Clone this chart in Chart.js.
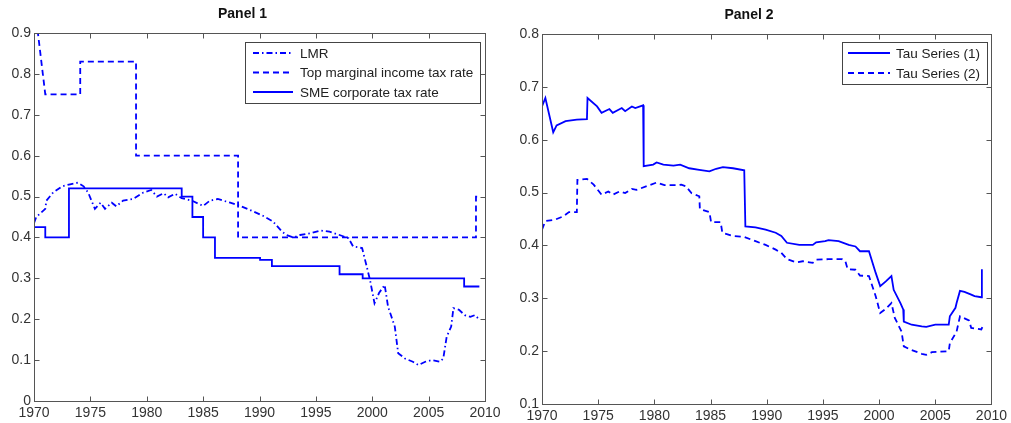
<!DOCTYPE html>
<html lang="en">
<head>
<meta charset="UTF-8">
<title>Panel 1 / Panel 2</title>
<script src="https://cdn.jsdelivr.net/npm/chart.js"></script>
<style>
  body { margin: 0; background: #fff; width: 1011px; height: 423px; overflow: hidden; position: relative; }
  canvas { position: absolute; top: 0; }
  #panel1 { left: 0; }
  #panel2 { left: 505px; }
</style>
</head>
<body>
<canvas id="panel1" width="505" height="423"></canvas>
<canvas id="panel2" width="506" height="423"></canvas>
<script>
// ---- data ----
const xTicks = [1970, 1975, 1980, 1985, 1990, 1995, 2000, 2005, 2010];

// Panel 1
const lmrYear = [1970, 1970.2, 1971, 1971.1, 1971.7, 1972.5, 1973.2, 1973.9, 1974.4, 1974.8, 1975.4, 1975.9, 1976.3, 1976.9,
  1977.3, 1977.9, 1978.8, 1979.7, 1980.4, 1980.9, 1981.5, 1981.9, 1982.5, 1983.1, 1984, 1985, 1985.6, 1986.3, 1987.4,
  1988.3, 1989.5, 1990.3, 1991.2, 1992, 1992.4, 1993, 1993.6, 1994.5, 1995.4, 1996.2, 1997.1, 1997.9, 1998.3, 1999.1,
  1999.5, 1999.8, 2000.2, 2000.6, 2001.1, 2001.4, 2002, 2002.3, 2002.9, 2003.6, 2004.1, 2004.7, 2005.3, 2006, 2006.3,
  2006.6, 2007, 2007.2, 2007.7, 2008.2, 2008.7, 2009.1, 2009.4];
const lmrRate = [0.435, 0.45, 0.47, 0.49, 0.51, 0.525, 0.53, 0.534, 0.525, 0.51, 0.47, 0.485, 0.47, 0.485,
  0.476, 0.49, 0.494, 0.51, 0.516, 0.50, 0.508, 0.498, 0.507, 0.496, 0.49, 0.477, 0.49, 0.494, 0.485,
  0.477, 0.463, 0.453, 0.439, 0.414, 0.406, 0.40, 0.406, 0.41, 0.417, 0.414, 0.406, 0.398, 0.378, 0.374,
  0.33, 0.296, 0.239, 0.264, 0.284, 0.231, 0.182, 0.117, 0.104, 0.096, 0.088, 0.096, 0.10, 0.096, 0.104,
  0.157, 0.182, 0.227, 0.223, 0.21, 0.206, 0.21, 0.202];

const topYear = [1970, 1971, 1974.1, 1974.1, 1979.05, 1979.05, 1988.1, 1988.1, 2009.2, 2009.2, 2009.45];
const topRate = [0.98, 0.75, 0.75, 0.83, 0.83, 0.60, 0.60, 0.40, 0.40, 0.50, 0.50];

const smeYear = [1970, 1971, 1973.1, 1983.1, 1984.05, 1985, 1986.05, 1990.05, 1991.1, 1997.1, 1999.15, 2008.15, 2009.5];
const smeRate = [0.425, 0.40, 0.52, 0.50, 0.45, 0.40, 0.35, 0.345, 0.33, 0.31, 0.30, 0.28, 0.28];

// Panel 2
const tau1Year = [1970, 1970.3, 1971, 1971.3, 1972.1, 1973.1, 1974.0, 1974.05, 1974.9, 1975.3, 1976, 1976.3, 1977.1, 1977.4,
  1978, 1978.3, 1979, 1979.05, 1979.9, 1980.2, 1980.8, 1981.7, 1982.3, 1983.1, 1984, 1984.9, 1985.5, 1986.1, 1987, 1988,
  1988.1, 1989, 1989.9, 1990.8, 1991.3, 1991.8, 1992.9, 1994.1, 1994.4, 1995.2, 1995.5, 1996.4, 1997.3, 1997.9, 1998.3,
  1999.1, 1999.7, 2000.1, 2000.6, 2001.1, 2001.3, 2001.9, 2002.15, 2002.2, 2002.9, 2003.8, 2004.2, 2005, 2006.2, 2006.3,
  2006.8, 2006.9, 2007.2, 2007.6, 2008.2, 2008.5, 2009.1, 2009.15];
const tau1Val = [0.663, 0.679, 0.614, 0.627, 0.635, 0.638, 0.639, 0.679, 0.663, 0.651, 0.658, 0.651, 0.66, 0.654,
  0.663, 0.66, 0.665, 0.55, 0.553, 0.557, 0.553, 0.551, 0.553, 0.546, 0.543, 0.54, 0.545, 0.548, 0.546, 0.542,
  0.436, 0.434, 0.43, 0.424, 0.418, 0.405, 0.401, 0.401, 0.406, 0.408, 0.41, 0.408, 0.401, 0.398, 0.389,
  0.389, 0.348, 0.323, 0.332, 0.342, 0.316, 0.291, 0.279, 0.256, 0.25, 0.247, 0.246, 0.25, 0.25, 0.266,
  0.282, 0.291, 0.314, 0.312, 0.307, 0.304, 0.302, 0.355];

const tau2Year = [1970, 1970.3, 1971.2, 1971.9, 1972.4, 1973.1, 1973.15, 1974, 1974.6, 1975.3, 1975.9, 1976.3, 1976.9,
  1977.4, 1978, 1978.4, 1980.2, 1980.9, 1982, 1982.4, 1982.8, 1983.3, 1984, 1984.05, 1984.9, 1985.05, 1985.9, 1986.05,
  1987, 1988, 1989, 1989.9, 1990.8, 1991.3, 1991.8, 1992.6, 1993.2, 1994.1, 1994.4, 1995.5, 1996.7, 1997, 1997.2,
  1997.9, 1998.3, 1999.1, 1999.7, 2000.1, 2000.6, 2001.1, 2001.4, 2002, 2002.2, 2002.9, 2003.8, 2004.2, 2004.7,
  2006.2, 2006.3, 2006.9, 2007.2, 2007.7, 2008, 2008.2, 2009.1, 2009.2];
const tau2Val = [0.43, 0.446, 0.449, 0.455, 0.463, 0.463, 0.524, 0.526, 0.515, 0.496, 0.502, 0.496, 0.502,
  0.499, 0.507, 0.505, 0.519, 0.514, 0.514, 0.515, 0.512, 0.499, 0.493, 0.469, 0.463, 0.444, 0.444, 0.424,
  0.418, 0.416, 0.408, 0.401, 0.392, 0.386, 0.374, 0.368, 0.37, 0.367, 0.373, 0.374, 0.374, 0.37, 0.355,
  0.354, 0.343, 0.342, 0.304, 0.272, 0.28, 0.291, 0.263, 0.237, 0.209, 0.202, 0.195, 0.193, 0.198,
  0.20, 0.215, 0.237, 0.266, 0.261, 0.258, 0.244, 0.241, 0.246];

// ---- helpers ----
const pts = (xs, ys) => xs.map((x, i) => ({ x: x, y: ys[i] }));
const BLUE = '#0000ff';
const FONT = 'Arial, "Liberation Sans", sans-serif';

// box frame with inward ticks on all four sides
const frameTicks = {
  id: 'frameTicks',
  afterDatasetsDraw(chart) {
    const { ctx, chartArea: a, scales } = chart;
    const L = Math.round(a.left) + 0.5, R = Math.round(a.right) + 0.5;
    const T = Math.round(a.top) + 0.5, B = Math.round(a.bottom) + 0.5;
    ctx.save();
    ctx.strokeStyle = '#555';
    ctx.lineWidth = 1;
    ctx.strokeRect(L, T, R - L, B - T);
    ctx.beginPath();
    scales.x.ticks.forEach(t => {
      const px = Math.round(scales.x.getPixelForValue(t.value)) + 0.5;
      ctx.moveTo(px, B); ctx.lineTo(px, B - 5);
      ctx.moveTo(px, T); ctx.lineTo(px, T + 5);
    });
    scales.y.ticks.forEach(t => {
      const py = Math.round(scales.y.getPixelForValue(t.value)) + 0.5;
      ctx.moveTo(L, py); ctx.lineTo(L + 5, py);
      ctx.moveTo(R, py); ctx.lineTo(R - 5, py);
    });
    ctx.stroke();
    ctx.restore();
  }
};

// MATLAB style legend box inside the plot
const boxLegend = {
  id: 'boxLegend',
  afterDraw(chart, args, o) {
    const ctx = chart.ctx;
    ctx.save();
    ctx.fillStyle = '#fff';
    ctx.fillRect(o.left, o.top, o.width, o.height);
    ctx.strokeStyle = '#444';
    ctx.lineWidth = 1;
    ctx.strokeRect(o.left + 0.5, o.top + 0.5, o.width, o.height);
    chart.data.datasets.forEach((ds, i) => {
      const y = o.firstRow + i * o.rowGap;
      ctx.strokeStyle = ds.borderColor;
      ctx.lineWidth = ds.borderWidth;
      ctx.setLineDash(ds.borderDash || []);
      ctx.beginPath();
      ctx.moveTo(o.left + o.lineStart, y);
      ctx.lineTo(o.left + o.lineEnd, y);
      ctx.stroke();
      ctx.setLineDash([]);
      ctx.fillStyle = '#222';
      ctx.font = '13.5px ' + FONT;
      ctx.textBaseline = 'middle';
      ctx.fillText(ds.label, o.left + o.textStart, y + 1);
    });
    ctx.restore();
  }
};

function makeOptions(title, yMin, yMax, area, legend) {
  return {
    responsive: false,
    animation: false,
    layout: { padding: { left: 0, right: area.right, top: 0, bottom: 0 } },
    elements: { point: { radius: 0 }, line: { tension: 0 } },
    scales: {
      x: {
        type: 'linear', min: 1970, max: 2010,
        afterBuildTicks: s => { s.ticks = xTicks.map(v => ({ value: v })); },
        afterFit: s => { s.height = area.xHeight; },
        grid: { display: false, drawTicks: false },
        border: { display: false },
        ticks: { color: '#333', font: { family: FONT, size: 14 }, padding: 4, maxRotation: 0, autoSkip: false,
          callback: v => String(v) }
      },
      y: {
        min: yMin, max: yMax,
        afterFit: s => { s.width = area.yWidth; },
        grid: { display: false, drawTicks: false },
        border: { display: false },
        ticks: { stepSize: 0.1, color: '#333', font: { family: FONT, size: 14 }, padding: 3,
          callback: v => String(+v.toFixed(1)) }
      }
    },
    plugins: {
      legend: { display: false },
      tooltip: { enabled: false },
      title: { display: true, text: title, color: '#111',
        font: { family: FONT, size: 14, weight: 'bold' },
        padding: { top: area.titleTop, bottom: area.titleBottom } },
      boxLegend: legend
    }
  };
}

new Chart(document.getElementById('panel1'), {
  type: 'line',
  data: {
    datasets: [
      { label: 'LMR', data: pts(lmrYear, lmrRate), borderColor: BLUE, borderWidth: 1.8, borderDash: [6, 3, 1.5, 3] },
      { label: 'Top marginal income tax rate', data: pts(topYear, topRate), borderColor: BLUE, borderWidth: 1.8, borderDash: [6, 4] },
      { label: 'SME corporate tax rate', data: pts(smeYear, smeRate), borderColor: BLUE, borderWidth: 1.8, stepped: 'before' }
    ]
  },
  options: makeOptions('Panel 1', 0, 0.9,
    { right: 20, xHeight: 22, yWidth: 34, titleTop: 5.6, titleBottom: 10.6 },
    { left: 245, top: 42, width: 235, height: 61, lineStart: 8, lineEnd: 48, textStart: 55, firstRow: 53, rowGap: 19.5 }),
  plugins: [frameTicks, boxLegend]
});

new Chart(document.getElementById('panel2'), {
  type: 'line',
  data: {
    datasets: [
      { label: 'Tau Series (1)', data: pts(tau1Year, tau1Val), borderColor: BLUE, borderWidth: 1.8 },
      { label: 'Tau Series (2)', data: pts(tau2Year, tau2Val), borderColor: BLUE, borderWidth: 1.8, borderDash: [6, 4] }
    ]
  },
  options: makeOptions('Panel 2', 0.1, 0.8,
    { right: 18, xHeight: 19, yWidth: 37, titleTop: 6.6, titleBottom: 10.6 },
    { left: 337, top: 42, width: 145, height: 42, lineStart: 6, lineEnd: 48, textStart: 54, firstRow: 53, rowGap: 20 }),
  plugins: [frameTicks, boxLegend]
});
</script>
</body>
</html>
